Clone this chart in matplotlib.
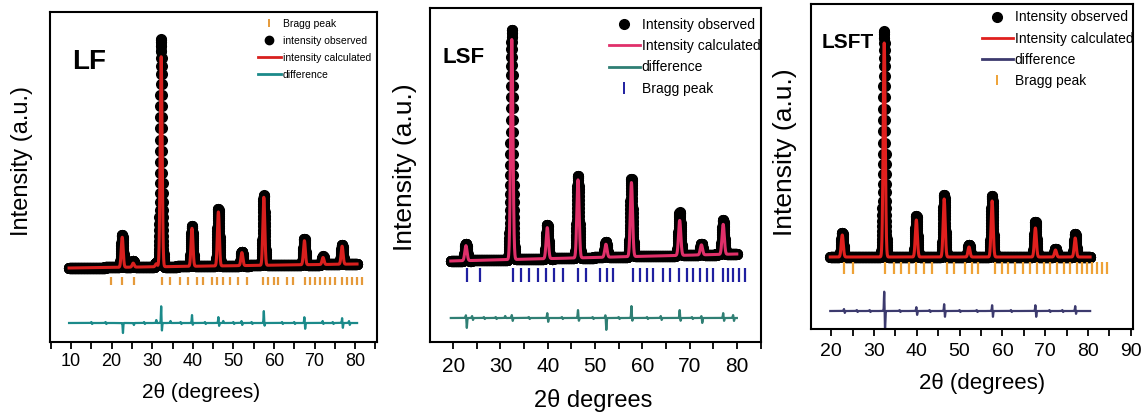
import numpy as np
import matplotlib
matplotlib.use("Agg")
import matplotlib.pyplot as plt
from matplotlib.ticker import MultipleLocator
from matplotlib.lines import Line2D

plt.rcParams['font.family'] = ['Liberation Sans', 'DejaVu Sans']

W, H = 1146, 416

# ---------------- LF ----------------
lf_range = (9.5, 80.5)
lf_bg = (74, 78)                       # background at start / end
lf_peaks = [22.6, 25.3, 31.0, 32.2, 39.8, 46.3, 52.1, 57.5, 67.5, 72.1, 76.8]
lf_obs = [32, 6, 4, 228, 40, 57, 14, 70, 26, 8, 19]
lf_calc = [30, 4, 3, 210, 38, 54, 13, 68, 24, 7, 18]
lf_bragg = [19.8, 22.5, 25.4, 32.3, 34.4, 36.9, 38.9, 41.0, 42.6, 44.7, 45.9,
            47.5, 49.2, 51.2, 53.3, 57.4, 58.6, 59.9, 61.1, 63.2, 64.8, 67.7,
            68.9, 70.1, 71.4, 72.6, 73.8, 75.1, 76.7, 78.0, 79.2, 80.4, 81.7]
lf_diff_pos = [15.0, 18.5, 22.6, 25.3, 28.0, 31.0, 32.2, 34.5, 37.0, 39.8, 43.0, 46.3,
               47.5, 50.0, 52.0, 54.5, 57.5, 62.0, 65.0, 67.5, 72.0, 74.5, 76.8, 78.5]
lf_diff_up = [1, 1, 0, 0, 1, 3, 17, 2, 1, 8, 1, 6, 2, 1, 2, 1, 12, 1, 1, 6, 2, 1, 5, 2]
lf_diff_dn = [1, 1, 10, 2, 1, 0, 8, 0, 1, 2, 1, 3, 0, 1, 2, 1, 3, 1, 1, 6, 1, 1, 5, 2]

# ---------------- LSF ----------------
lsf_range = (19.5, 80.0)
lsf_bg = (81, 88)
lsf_peaks = [22.7, 32.4, 39.9, 46.4, 52.3, 57.7, 67.9, 72.5, 77.1]
lsf_obs = [17, 230, 34, 82, 15, 78, 43, 11, 34]
lsf_calc = [15, 220, 31, 78, 13, 74, 35, 10, 30]
lsf_bragg = [22.9, 25.6, 32.6, 34.4, 36.1, 37.9, 39.6, 41.4, 43.3, 46.5, 48.1,
             51.1, 52.5, 53.9, 58.0, 59.5, 60.9, 62.3, 64.3, 65.8, 67.8, 69.4,
             70.8, 72.2, 73.6, 75.0, 77.0, 78.2, 79.2, 80.4, 81.7]
lsf_diff_pos = [22.7, 24.0, 26.5, 29.0, 31.0, 32.4, 36.0, 39.9, 43.0, 46.4, 49.5, 52.2,
                55.0, 57.7, 61.0, 63.9, 67.9, 70.5, 72.5, 77.1, 79.2]
lsf_diff_up = [3, 2, 1, 1, 2, 3, 1, 5, 1, 8, 1, 3, 1, 12, 1, 2, 8, 1, 2, 5, 3]
lsf_diff_dn = [10, 2, 1, 1, 0, 3, 1, 4, 1, 3, 1, 12, 1, 3, 1, 2, 3, 1, 5, 3, 3]

# ---------------- LSFT ----------------
lsft_range = (19.8, 80.5)
lsft_bg = (72, 72)
lsft_peaks = [22.6, 32.4, 39.9, 46.4, 52.2, 57.6, 67.7, 72.4, 77.0]
lsft_obs = [24, 226, 41, 62, 12, 61, 35, 8, 23]
lsft_calc = [22, 214, 37, 58, 10, 56, 29, 7, 19]
lsft_bragg = [22.9, 25.2, 32.6, 34.6, 36.3, 38.1, 39.9, 41.6, 43.5, 47.0, 48.6,
              51.3, 52.9, 54.4, 58.3, 59.9, 61.4, 63.0, 64.9, 66.5, 68.1, 69.6,
              71.2, 72.7, 74.3, 75.8, 77.4, 78.6, 79.8, 80.9, 82.1, 83.3, 84.5]
lsft_diff_pos = [23.0, 26.0, 29.0, 32.4, 36.0, 39.9, 43.0, 46.4, 50.0, 54.0, 57.6,
                 62.0, 67.7, 71.0, 74.0, 77.0]
lsft_diff_up = [2, 1, 1, 20, 1, 4, 1, 7, 1, 1, 6, 1, 6, 1, 1, 5]
lsft_diff_dn = [2, 1, 1, 20, 1, 4, 1, 6, 1, 1, 6, 1, 6, 1, 1, 3]


def profile(x, bg, pos, amp, sigma=0.24):
    y = np.interp(x, [x[0], x[-1]], bg)
    for p, a in zip(pos, amp):
        y = y + a * np.exp(-0.5 * ((x - p) / sigma) ** 2)
    return y


def diff_curve(x, base, pos, up, dn, s=0.07):
    y = np.full_like(x, base, dtype=float)
    for p, u, d in zip(pos, up, dn):
        y += u * np.exp(-0.5 * ((x - p) / s) ** 2)
        y -= d * np.exp(-0.5 * ((x - p - 0.18) / s) ** 2)
    return y


def panel(rect, xlim, ylim, xr, bg, peaks, obs, calc, bragg, bragg_y, bragg_col,
          bragg_ms, dpos, dup, ddn, diff_y, diff_col, calc_col, tick_fs, tick_pad,
          major_max):
    ax = fig.add_axes(rect)
    x = np.arange(xr[0], xr[1], 0.02)
    ax.plot(x, profile(x, bg, peaks, obs), 'o', color='black', ms=8, mew=0, zorder=2)
    ax.plot(x, profile(x, bg, peaks, calc), '-', color=calc_col, lw=2.2, zorder=3)
    ax.plot(bragg, [bragg_y] * len(bragg), '|', color=bragg_col, ms=bragg_ms, mew=1.6, zorder=2)
    xd = np.arange(xr[0], xr[1], 0.01)
    ax.plot(xd, diff_curve(xd, diff_y, dpos, dup, ddn), '-', color=diff_col, lw=1.6)
    ax.set_xlim(*xlim)
    ax.set_ylim(*ylim)
    ax.set_yticks([])
    ax.xaxis.set_major_locator(MultipleLocator(10))
    ax.xaxis.set_minor_locator(MultipleLocator(5))
    ax.tick_params(axis='x', which='both', direction='out', length=5, width=1.3,
                   labelsize=tick_fs, pad=tick_pad, top=False)
    ax.set_xticks([t for t in range(10, major_max + 1, 10) if xlim[0] < t < xlim[1]])
    for s in ax.spines.values():
        s.set_linewidth(1.5)
    return ax


def fr(px, py):
    return px / W, 1 - py / H


fig = plt.figure(figsize=(W / 100, H / 100), dpi=100)

# LF panel
ax1 = panel([50 / W, 74 / H, 327 / W, 330 / H], (4.8, 85.4), (0, 330), lf_range, lf_bg,
            lf_peaks, lf_obs, lf_calc, lf_bragg, 61, '#e59a3a', 6, lf_diff_pos, lf_diff_up,
            lf_diff_dn, 19, '#1b8a8a', '#d8201e', 13, 3, 80)
ax1.text(0.067, 0.848, 'LF', transform=ax1.transAxes, fontsize=20, fontweight='bold',
         va='center')
h1 = [Line2D([], [], ls='none', marker='|', color='#e59a3a', ms=6, mew=1.4),
      Line2D([], [], ls='none', marker='o', color='black', ms=6),
      Line2D([], [], color='#d8201e', lw=2),
      Line2D([], [], color='#1b8a8a', lw=2)]
ax1.legend(h1, ['Bragg peak', 'intensity observed', 'intensity calculated', 'difference'],
           loc='upper left', bbox_to_anchor=(0.636, 0.98), frameon=False, fontsize=7.5,
           handlelength=2.2, handletextpad=0.2, labelspacing=0.68, borderpad=0,
           borderaxespad=0)
fig.text(*fr(22, 161), 'Intensity (a.u.)', rotation=90, fontsize=17, ha='center', va='center')
fig.text(*fr(201, 393), '2θ (degrees)', fontsize=15, ha='center', va='center')

# LSF panel
ax2 = panel([430 / W, 74 / H, 331 / W, 334 / H], (15.1, 85.1), (0, 334), lsf_range, lsf_bg,
            lsf_peaks, lsf_obs, lsf_calc, lsf_bragg, 67, '#1f1fa0', 10, lsf_diff_pos,
            lsf_diff_up, lsf_diff_dn, 24, '#2f7f74', '#e0306a', 15, 6, 80)
ax2.text(0.039, 0.853, 'LSF', transform=ax2.transAxes, fontsize=16, fontweight='bold',
         va='center')
h2 = [Line2D([], [], ls='none', marker='o', color='black', ms=7),
      Line2D([], [], color='#e0306a', lw=2),
      Line2D([], [], color='#2f7f74', lw=2),
      Line2D([], [], ls='none', marker='|', color='#1f1fa0', ms=8, mew=1.4)]
ax2.legend(h2, ['Intensity observed', 'Intensity calculated', 'difference', 'Bragg peak'],
           loc='upper left', bbox_to_anchor=(0.541, 0.97), frameon=False, fontsize=10,
           handlelength=2.2, handletextpad=0.15, labelspacing=0.52, borderpad=0,
           borderaxespad=0)
fig.text(*fr(405, 167), 'Intensity (a.u.)', rotation=90, fontsize=19, ha='center', va='center')
fig.text(*fr(593, 400), '2θ degrees', fontsize=17, ha='center', va='center')

# LSFT panel
ax3 = panel([811 / W, 87 / H, 322 / W, 325 / H], (15.3, 90.5), (0, 325), lsft_range, lsft_bg,
            lsft_peaks, lsft_obs, lsft_calc, lsft_bragg, 61, '#eea236', 8, lsft_diff_pos,
            lsft_diff_up, lsft_diff_dn, 18, '#3c3a6e', '#e0201e', 14, 5, 90)
ax3.text(0.034, 0.88, 'LSFT', transform=ax3.transAxes, fontsize=15, fontweight='bold',
         va='center')
h3 = [Line2D([], [], ls='none', marker='o', color='black', ms=7),
      Line2D([], [], color='#e0201e', lw=2),
      Line2D([], [], color='#3c3a6e', lw=2),
      Line2D([], [], ls='none', marker='|', color='#eea236', ms=7, mew=1.4)]
ax3.legend(h3, ['Intensity observed', 'Intensity calculated', 'difference', 'Bragg peak'],
           loc='upper left', bbox_to_anchor=(0.531, 0.98), frameon=False, fontsize=10,
           handlelength=2.2, handletextpad=0.15, labelspacing=0.52, borderpad=0,
           borderaxespad=0)
fig.text(*fr(785, 152), 'Intensity (a.u.)', rotation=90, fontsize=19, ha='center', va='center')
fig.text(*fr(982, 383), '2θ (degrees)', fontsize=16, ha='center', va='center')

fig.savefig('out.png', dpi=100)
